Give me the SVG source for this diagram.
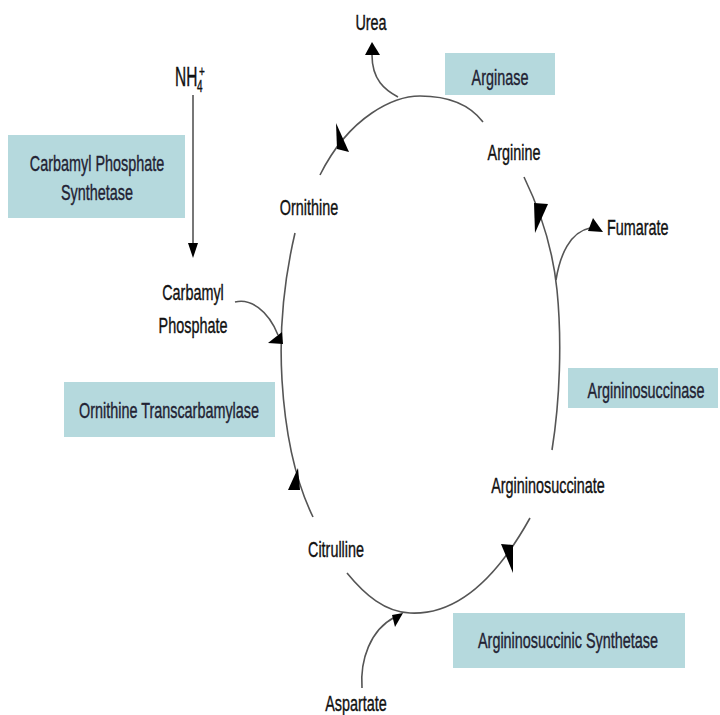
<svg xmlns="http://www.w3.org/2000/svg" width="720" height="715" viewBox="0 0 720 715">
<style>
.t{font-family:"Liberation Sans",Arial,sans-serif;font-size:14.4px;fill:#111;text-anchor:middle;stroke:#111;stroke-width:0.25}
.bt{font-family:"Liberation Sans",Arial,sans-serif;font-size:14.4px;fill:#223;text-anchor:middle;stroke:#223;stroke-width:0.25}
.box{fill:#b5d9dd}
.ln{fill:none;stroke:#555;stroke-width:1.6}
.ah{fill:#000}
</style>
<rect width="720" height="715" fill="#fff"/>
<g id="connectors">
<path class="ln" d="M483,122 C470,105 450,96 420,96 C395,96 350,115 320,175"/>
<path class="ln" d="M295,233 C284,280 279,330 282,380 C285,430 295,480 313,517"/>
<path class="ln" d="M347,573 C365,595 385,612 410,613 C450,615 490,590 530,518"/>
<path class="ln" d="M552,450 C560,400 562,340 557,290 C553,250 540,210 524,177"/>
<path class="ln" d="M398,97 C385,90 372,80 372,55"/>
<path class="ln" d="M556,280 C560,255 570,232 590,228"/>
<path class="ln" d="M235,302 C250,298 268,310 278,335"/>
<path class="ln" d="M362,688 C360,660 370,630 395,617"/>
<path class="ln" d="M193,95 V245" stroke="#333"/>
<polygon class="ah" points="336,123 337,149 349,152"/>
<polygon class="ah" points="534,203 548,204 535,233"/>
<polygon class="ah" points="268,343 282,332 283,344"/>
<polygon class="ah" points="298,468 288,490 300,490"/>
<polygon class="ah" points="501,544 513,545 513,573"/>
<polygon class="ah" points="392,615 403,613 395,627"/>
<polygon class="ah" points="372,42 365,55 380,55"/>
<polygon class="ah" points="593,218 588,231 603,232"/>
<polygon class="ah" points="193,258 188,243 198,243"/>
</g>
<g id="urea"><text class="t" transform="translate(371,30) scale(1,1.5)">Urea</text></g>
<g id="nh4">
<text class="t" style="text-anchor:start;font-size:15.5px" transform="translate(175,86) scale(1,1.8)">NH</text>
<text class="t" style="text-anchor:start;font-size:10px" transform="translate(197,92) scale(1,1.6)">4</text>
<text class="t" style="text-anchor:start;font-size:10px" transform="translate(199,76) scale(1,1.5)">+</text>
</g>
<g id="arginase"><rect class="box" x="445" y="53" width="110" height="42"/><text class="bt" transform="translate(500,85) scale(1,1.5)">Arginase</text></g>
<g id="arginine"><text class="t" transform="translate(514,160) scale(1,1.5)">Arginine</text></g>
<g id="ornithine"><text class="t" transform="translate(309,215) scale(1,1.5)">Ornithine</text></g>
<g id="fumarate"><text class="t" style="text-anchor:start" transform="translate(607,235) scale(1,1.5)">Fumarate</text></g>
<g id="cps"><rect class="box" x="8" y="135" width="177" height="83"/>
<text class="bt" transform="translate(97,171) scale(1,1.5)">Carbamyl Phosphate</text>
<text class="bt" transform="translate(97,200) scale(1,1.5)">Synthetase</text></g>
<g id="carbamyl-phosphate"><text class="t" transform="translate(193,300) scale(1,1.5)">Carbamyl</text>
<text class="t" transform="translate(193,333) scale(1,1.5)">Phosphate</text></g>
<g id="otc"><rect class="box" x="64" y="382" width="211" height="55"/><text class="bt" transform="translate(169,418) scale(1,1.5)">Ornithine Transcarbamylase</text></g>
<g id="citrulline"><text class="t" transform="translate(336,557) scale(1,1.5)">Citrulline</text></g>
<g id="aspartate"><text class="t" transform="translate(356,711) scale(1,1.5)">Aspartate</text></g>
<g id="argininosuccinate"><text class="t" transform="translate(548,493) scale(1,1.5)">Argininosuccinate</text></g>
<g id="argininosuccinase"><rect class="box" x="568" y="368" width="150" height="40"/><text class="bt" transform="translate(646,398) scale(1,1.5)">Argininosuccinase</text></g>
<g id="ass"><rect class="box" x="453" y="613" width="232" height="55"/><text class="bt" transform="translate(568,648) scale(1,1.5)">Argininosuccinic Synthetase</text></g>
</svg>
